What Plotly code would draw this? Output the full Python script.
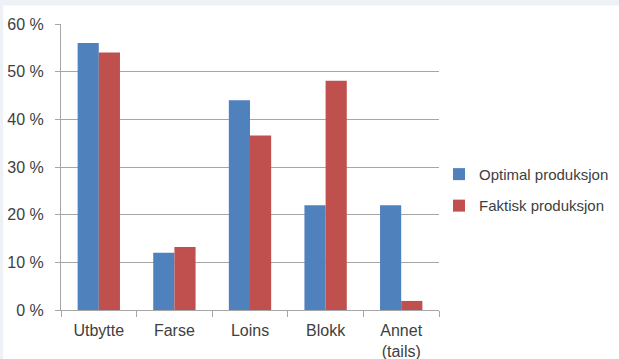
import plotly.graph_objects as go

categories = ["Utbytte", "Farse", "Loins", "Blokk", "Annet<br>(tails)"]
optimal = [56, 12, 44, 22, 22]
faktisk = [54, 13.2, 36.6, 48.1, 1.9]
series_names = ["Optimal produksjon", "Faktisk produksjon"]
tick_vals = [0, 10, 20, 30, 40, 50, 60]
tick_text = ["0 %", "10 %", "20 %", "30 %", "40 %", "50 %", "60 %"]

font = "Liberation Sans, Arial, sans-serif"
fig = go.Figure()
fig.add_trace(go.Bar(x=categories, y=optimal, name=series_names[0], marker_color="#4F81BD",
                     marker_line_width=0, legendgroup="a"))
fig.add_trace(go.Bar(x=categories, y=faktisk, name=series_names[1], marker_color="#C0504D",
                     marker_line_width=0, legendgroup="b"))

fig.update_layout(
    width=619, height=359,
    margin=dict(l=61, r=180, t=24, b=49, autoexpand=False),
    paper_bgcolor="white", plot_bgcolor="white",
    barmode="group", bargap=0.44, bargroupgap=0,
    font=dict(family=font, size=16, color="#404040"),
    legend=dict(x=1.0, y=0.42, xanchor="left", yanchor="middle",
                font=dict(size=15, color="#404040"), tracegroupgap=9,
                itemwidth=30),
    showlegend=True,
    shapes=[dict(type="rect", xref="paper", yref="paper", x0=-0.2, x1=1.5, y0=1.065, y1=1.09,
                 fillcolor="#EEF2F6", line_width=0, layer="below"),
            dict(type="rect", xref="paper", yref="paper", x0=-0.2, x1=-0.153, y0=-0.2, y1=1.07,
                 fillcolor="#EEF2F6", line_width=0, layer="below")],
)
fig.update_xaxes(showline=True, linecolor="#A6A6A6", linewidth=1, ticks="outside",
                 tickson="boundaries", ticklen=6, tickcolor="#A6A6A6", ticklabelstandoff=6,
                 tickfont=dict(size=16, color="#404040"), showgrid=False)
fig.update_yaxes(range=[0, 60], tickvals=tick_vals, ticktext=tick_text,
                 showline=True, linecolor="#A6A6A6", linewidth=1, ticks="outside",
                 ticklen=5, tickcolor="#A6A6A6", showgrid=True, gridcolor="#A6A6A6",
                 ticklabelstandoff=8,
                 gridwidth=1, zeroline=False, tickfont=dict(size=16, color="#404040"))

fig.write_html("out.html")
